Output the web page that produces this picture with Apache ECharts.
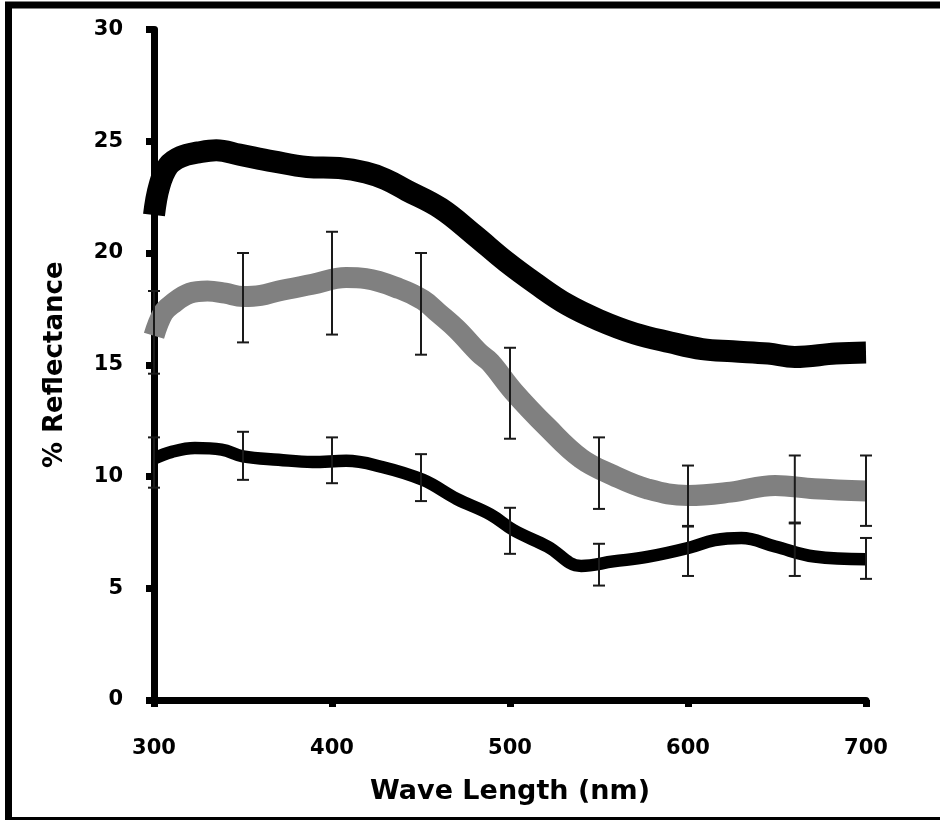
<!DOCTYPE html>
<html>
<head>
<meta charset="utf-8">
<script src="https://cdn.jsdelivr.net/npm/echarts@6/dist/echarts.min.js"></script>
<style>
html,body{margin:0;padding:0;background:#fff;}
#chart{width:940px;height:820px;}
</style>
</head>
<body>
<div id="chart"></div>
<script>
// Top thick black curve
const topX = [300, 303, 308, 315, 325, 335, 348, 367, 386, 404, 419, 430, 442, 461, 480, 498, 515, 532, 550, 570, 590, 608, 625, 645, 660, 683, 700];
const topY = [21.7, 23.0, 23.9, 24.3, 24.5, 24.6, 24.4, 24.1, 23.85, 23.8, 23.6, 23.3, 22.8, 22.0, 20.8, 19.6, 18.6, 17.7, 17.0, 16.4, 16.0, 15.7, 15.6, 15.5, 15.35, 15.5, 15.55];

// Middle thick gray curve
const grayX = [300, 305, 310, 320, 330, 340, 350, 360, 370, 389, 408, 419, 438, 451, 460, 470, 483, 489, 502, 521, 540, 558, 577, 600, 624, 649, 671, 700];
const grayY = [16.3, 17.3, 17.7, 18.2, 18.3, 18.2, 18.05, 18.1, 18.3, 18.6, 18.9, 18.85, 18.4, 17.9, 17.3, 16.6, 15.5, 15.1, 13.8, 12.2, 10.8, 10.05, 9.45, 9.15, 9.3, 9.6, 9.45, 9.35];

// Bottom black curve
const lowX = [300, 310, 323, 338, 350, 370, 389, 408, 427, 451, 470, 489, 502, 521, 540, 558, 577, 600, 615, 630, 649, 671, 700];
const lowY = [10.8, 11.1, 11.27, 11.2, 10.9, 10.75, 10.65, 10.7, 10.45, 9.85, 9.0, 8.3, 7.6, 6.87, 6.0, 6.2, 6.4, 6.8, 7.15, 7.25, 6.87, 6.42, 6.3];

// Error bars
const errX = [300, 350, 400, 450, 500, 550, 600, 660, 700];
const grayHigh = [18.3, 20.0, 20.95, 20.0, 15.76, 11.75, 10.49, 10.94, 10.94];
const grayLow = [14.6, 16.0, 16.35, 15.45, 11.69, 8.55, 7.79, 7.94, 7.79];
const lowHigh = [11.75, 12.0, 11.75, 11.0, 8.6, 6.99, 7.76, 7.9, 7.25];
const lowLow = [9.5, 9.85, 9.7, 8.9, 6.54, 5.12, 5.55, 5.55, 5.42];

const xTicks = [300, 400, 500, 600, 700];
const yTicks = [0, 5, 10, 15, 20, 25, 30];

const pairs = (xs, ys) => xs.map((x, i) => [x, ys[i]]);
const errData = (hi, lo) => errX.map((x, i) => [x, hi[i], lo[i]]);

function renderErr(params, api) {
  const x = api.value(0), hi = api.value(1), lo = api.value(2);
  const p1 = api.coord([x, hi]);
  const p2 = api.coord([x, lo]);
  const w = 6;
  const st = {stroke: '#1a1a1a', lineWidth: 2};
  return {
    type: 'group',
    children: [
      {type: 'line', shape: {x1: p1[0], y1: p1[1], x2: p2[0], y2: p2[1]}, style: st},
      {type: 'line', shape: {x1: p1[0] - w, y1: p1[1], x2: p1[0] + w, y2: p1[1]}, style: st},
      {type: 'line', shape: {x1: p2[0] - w, y1: p2[1], x2: p2[0] + w, y2: p2[1]}, style: st}
    ]
  };
}

const font = 'DejaVu Sans';
const frame = {stroke: '#000', lineWidth: 7};
const chart = echarts.init(document.getElementById('chart'), null, {renderer: 'canvas'});
chart.setOption({
  animation: false,
  backgroundColor: '#fff',
  graphic: [
    {type: 'line', shape: {x1: 5, y1: 5, x2: 940, y2: 5}, style: frame, z: 100},
    {type: 'line', shape: {x1: 8.5, y1: 2, x2: 8.5, y2: 820}, style: frame, z: 100},
    {type: 'line', shape: {x1: 5, y1: 820.5, x2: 940, y2: 820.5}, style: frame, z: 100}
  ],
  grid: {left: 154, right: 74, top: 29.5, bottom: 120},
  xAxis: {
    type: 'value', min: 300, max: 700, interval: 100,
    name: 'Wave Length (nm)', nameLocation: 'middle', nameGap: 78,
    nameTextStyle: {fontFamily: font, fontWeight: 'bold', fontSize: 27, color: '#000'},
    axisLine: {show: true, onZero: false, lineStyle: {color: '#000', width: 7}},
    axisTick: {show: true, inside: false, length: 7, lineStyle: {color: '#000', width: 7}},
    axisLabel: {
      fontFamily: font, fontWeight: 'bold', fontSize: 21, color: '#000', margin: 38,
      formatter: v => xTicks.includes(v) ? String(v) : ''
    },
    splitLine: {show: false}
  },
  yAxis: {
    type: 'value', min: 0, max: 30, interval: 5,
    name: '% Reflectance', nameLocation: 'middle', nameGap: 86, nameRotate: 90,
    nameTextStyle: {fontFamily: font, fontWeight: 'bold', fontSize: 26, color: '#000'},
    axisLine: {show: true, onZero: false, lineStyle: {color: '#000', width: 7}},
    axisTick: {show: true, inside: false, length: 8, lineStyle: {color: '#000', width: 7}},
    axisLabel: {
      fontFamily: font, fontWeight: 'bold', fontSize: 21, color: '#000', margin: 31,
      formatter: v => yTicks.includes(v) ? String(v) : ''
    },
    splitLine: {show: false}
  },
  series: [
    {
      type: 'line', data: pairs(topX, topY), showSymbol: false, smooth: 0.4,
      lineStyle: {color: '#000', width: 22, cap: 'butt', join: 'round'}, z: 3
    },
    {
      type: 'line', data: pairs(grayX, grayY), showSymbol: false, smooth: 0.4,
      lineStyle: {color: '#808080', width: 21, cap: 'butt', join: 'round'}, z: 3
    },
    {
      type: 'line', data: pairs(lowX, lowY), showSymbol: false, smooth: 0.4,
      lineStyle: {color: '#000', width: 12.5, cap: 'butt', join: 'round'}, z: 3
    },
    {
      type: 'custom', data: errData(grayHigh, grayLow), renderItem: renderErr,
      encode: {x: 0, y: [1, 2]}, z: 5, clip: false
    },
    {
      type: 'custom', data: errData(lowHigh, lowLow), renderItem: renderErr,
      encode: {x: 0, y: [1, 2]}, z: 5, clip: false
    }
  ]
});
</script>
</body>
</html>
